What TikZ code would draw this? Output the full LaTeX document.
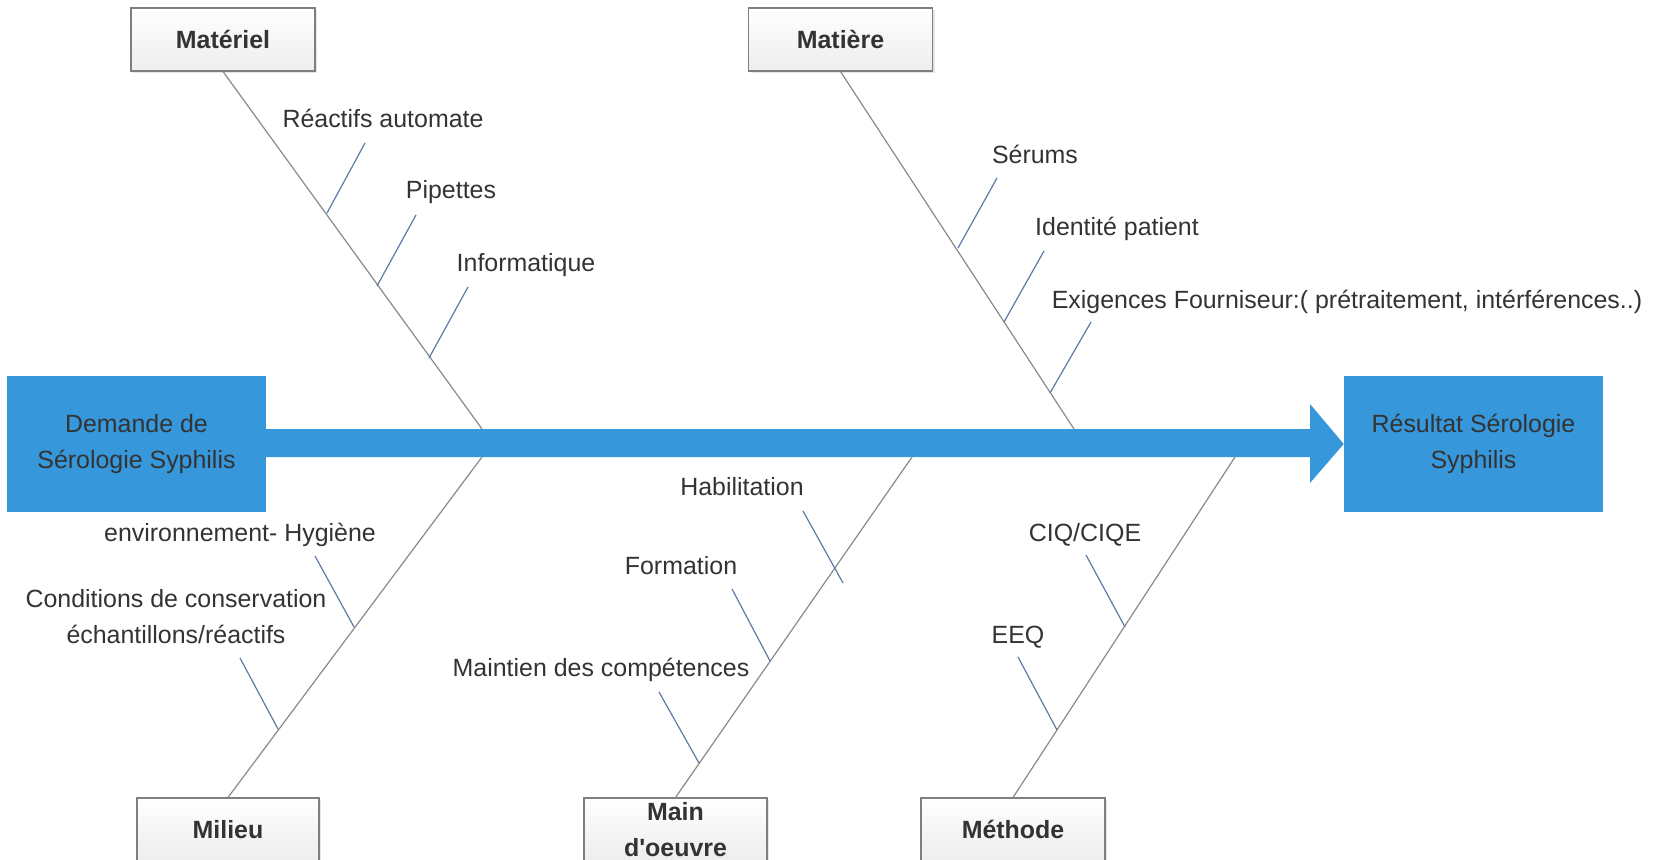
\documentclass[tikz,border=0pt]{standalone}
\usepackage{fontspec}
\setmainfont{Liberation Sans}
\usetikzlibrary{shadows}
\definecolor{cBlue}{HTML}{3797DB}
\definecolor{cInk}{HTML}{333333}
\definecolor{cSpine}{HTML}{8A8A8A}
\definecolor{cTwig}{HTML}{5A7BA6}
\definecolor{cEdge}{HTML}{7F7F7F}
\definecolor{cShade}{HTML}{EDEDED}
\newcommand{\lblfont}{\fontsize{18.7}{27}\selectfont}
\tikzset{
  headbox/.style={draw=cEdge,line width=0.8pt,top color=white,bottom color=cShade,minimum width=#1,minimum height=47.25pt,inner sep=0pt,align=center,font=\lblfont\bfseries,text=cInk,drop shadow={opacity=0.2,shadow xshift=1.5pt,shadow yshift=-1.5pt}},
  headbox/.default=138pt,
  endbox/.style={fill=cBlue,minimum width=194.25pt,minimum height=102pt,inner sep=0pt,align=center,font=\lblfont,text=cInk},
  spine/.style={draw=cSpine,line width=0.9pt},
  twig/.style={draw=cTwig,line width=0.9pt},
  lbl/.style={font=\lblfont,text=cInk,inner sep=0pt,anchor=base,align=center},
}

\begin{document}
\begin{tikzpicture}[x=0.75pt,y=-0.75pt]
\useasboundingbox (0,0) rectangle (1667,860);
\clip (0,0) rectangle (1667,860);
% the six categories
\node[headbox] (mat) at (223,39.5) {Matériel};
\node[headbox] (mre) at (840.5,39.5) {Matière};
\node[headbox=136.5pt] (mil) at (228,829.5) {Milieu};
\node[headbox=137.25pt] (mdo) at (675.5,829.5) {Main\\d\textquotesingle oeuvre};
\node[headbox] (mth) at (1013,829.5) {Méthode};
% start and result
\node[endbox] (dem) at (136.5,444) {Demande de\\Sérologie Syphilis};
\node[endbox] (res) at (1473.5,444) {Résultat Sérologie\\Syphilis};
\fill[cBlue] (266,429) -- (1310,429) -- (1310,404) -- (res.west) -- (1310,483) -- (1310,457) -- (266,457) -- cycle;
% bones
\coordinate (jmat) at (482,429);
\coordinate (jmre) at (1074,429);
\coordinate (jmil) at (482,457);
\coordinate (jmdo) at (912,457);
\coordinate (jmth) at (1235,457);
\draw[spine] (mat.south) -- (jmat);
\draw[spine] (mre.south) -- (jmre);
\draw[spine] (mil.north) -- (jmil);
\draw[spine] (mdo.north) -- (jmdo);
\draw[spine] (mth.north) -- (jmth);
% causes
\foreach \t/\lx/\ly/\ax/\ay/\bx/\by [count=\i] in {
  Réactifs automate/383/127/365/143/327/213,
  Pipettes/451/198/416/215/377/286,
  Informatique/526/271/468/287/429/358,
  Sérums/1035/163/997/178/958/248,
  Identité patient/1117/235/1044/251/1004/322,
  {Exigences Fourniseur:( prétraitement, intérférences..)}/1347/308/1091/322/1050/393,
  environnement- Hygiène/240/541/315/556/354/627,
  {Conditions de conservation\\échantillons/réactifs}/176/643/240/658/278/729,
  Habilitation/742/495/803/511/843/583,
  Formation/681/574/732/589/770/661,
  Maintien des compétences/601/676/659/692/699/763,
  {CIQ/CIQE}/1085/541/1086/555/1125/627,
  EEQ/1018/643/1018/657/1057/730}{
  \node[lbl] (l\i) at (\lx,\ly) {\t};
  \coordinate (a\i) at (\ax,\ay);
  \coordinate (b\i) at (\bx,\by);
  \draw[twig] (a\i) -- (b\i);
}
\end{tikzpicture}
\end{document}
